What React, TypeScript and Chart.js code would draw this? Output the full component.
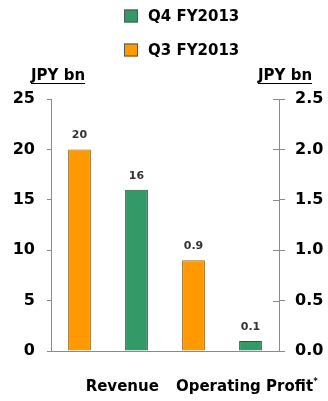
import React, { useEffect, useRef } from "react";
import { Chart, registerables } from "chart.js";

Chart.register(...registerables);

// ---- data ----
const slotLabels = ["Revenue Q3", "Revenue Q4", "Operating Profit Q3", "Operating Profit Q4"];
const categories = ["Revenue", "Operating Profit"];
const q3Values = [20, 0.9]; // Revenue (left axis), Operating Profit (right axis)
const q4Values = [16, 0.1];
const seriesNames = ["Q4 FY2013", "Q3 FY2013"];
const unitLabel = "JPY bn";
const leftTicksMax = 25;
const rightTicksMax = 2.5;

const ORANGE = "#FF9900";
const ORANGE_BORDER = "#9a6618";
const GREEN = "#339966";
const GREEN_BORDER = "#2a5a42";
const AXIS = "#8a8a8a";
const FONT = "'DejaVu Sans', Verdana, sans-serif";

const legendItems = [
  { label: seriesNames[0], color: GREEN, border: GREEN_BORDER },
  { label: seriesNames[1], color: ORANGE, border: ORANGE_BORDER },
];

const overlay = {
  id: "overlay",
  afterDraw(chart: any) {
    const ctx = chart.ctx as CanvasRenderingContext2D;
    const { left, right, top, bottom } = chart.chartArea;
    const y2 = chart.scales.y2;
    const x = chart.scales.x;
    ctx.save();
    // right axis: inner half of crossing ticks
    ctx.strokeStyle = AXIS;
    ctx.lineWidth = 1;
    y2.ticks.forEach((t: any) => {
      const py = Math.round(y2.getPixelForValue(t.value)) + 0.5;
      ctx.beginPath();
      ctx.moveTo(right - 6, py);
      ctx.lineTo(right, py);
      ctx.stroke();
    });
    // baseline
    ctx.beginPath();
    ctx.moveTo(left, Math.round(bottom) + 0.5);
    ctx.lineTo(right, Math.round(bottom) + 0.5);
    ctx.stroke();

    // data labels
    ctx.fillStyle = "#333";
    ctx.font = `bold 11px ${FONT}`;
    ctx.textAlign = "center";
    ctx.textBaseline = "middle";
    chart.data.datasets.forEach((ds: any, di: number) => {
      const meta = chart.getDatasetMeta(di);
      ds.data.forEach((v: any, i: number) => {
        if (v === null || v === undefined) return;
        const el = meta.data[i];
        ctx.fillText(String(v), el.x, el.y - 14);
      });
    });

    // category labels
    ctx.fillStyle = "#000";
    ctx.font = `bold 15px ${FONT}`;
    ctx.textBaseline = "middle";
    const catPos = [0.75, 2.93];
    categories.forEach((c, i) => {
      const cx = x.getPixelForValue(catPos[i]);
      const cy = bottom + 36;
      if (i === 1) {
        const w = ctx.measureText(c).width;
        const total = w + 4;
        ctx.textAlign = "left";
        ctx.fillText(c, cx - total / 2, cy);
        ctx.font = `bold 8px ${FONT}`;
        ctx.fillText("*", cx - total / 2 + w + 0.5, cy - 5);
        ctx.font = `bold 15px ${FONT}`;
      } else {
        ctx.textAlign = "center";
        ctx.fillText(c, cx, cy);
      }
    });

    // legend
    ctx.font = `bold 15px ${FONT}`;
    ctx.textAlign = "left";
    legendItems.forEach((it, i) => {
      const cy = 16 + i * 34;
      ctx.fillStyle = it.color;
      ctx.fillRect(124, cy - 6.5, 14, 13);
      ctx.strokeStyle = "#555";
      ctx.strokeRect(124.5, cy - 6, 13, 12);
      ctx.fillStyle = "#000";
      ctx.fillText(it.label, 148, cy + 1);
    });

    // unit titles
    const drawUnit = (xl: number) => {
      const w = ctx.measureText(unitLabel).width;
      ctx.fillText(unitLabel, xl, 76);
      ctx.beginPath();
      ctx.strokeStyle = "#000";
      ctx.moveTo(xl, 83.5);
      ctx.lineTo(xl + w, 83.5);
      ctx.stroke();
    };
    ctx.fillStyle = "#000";
    drawUnit(31);
    drawUnit(right - 21);
    ctx.restore();
  },
};

export default function App() {
  const ref = useRef<HTMLCanvasElement>(null);
  useEffect(() => {
    document.body.style.margin = "0";
    const chart = new Chart(ref.current!, {
      type: "bar",
      data: {
        labels: slotLabels,
        datasets: [
          { label: seriesNames[1], data: [q3Values[0], null, null, null], yAxisID: "y", backgroundColor: ORANGE, borderColor: ORANGE_BORDER },
          { label: seriesNames[0], data: [null, q4Values[0], null, null], yAxisID: "y", backgroundColor: GREEN, borderColor: GREEN_BORDER },
          { label: seriesNames[1], data: [null, null, q3Values[1], null], yAxisID: "y2", backgroundColor: ORANGE, borderColor: ORANGE_BORDER },
          { label: seriesNames[0], data: [null, null, null, q4Values[1]], yAxisID: "y2", backgroundColor: GREEN, borderColor: GREEN_BORDER },
        ] as any,
      },
      options: {
        animation: false,
        responsive: true,
        maintainAspectRatio: false,
        datasets: { bar: { skipNull: true, borderWidth: 1, barPercentage: 1, categoryPercentage: 0.4 } } as any,
        layout: { padding: { top: 99, bottom: 50, left: 0, right: 0 } },
        plugins: { legend: { display: false }, tooltip: { enabled: false } },
        scales: {
          x: { display: false },
          y: {
            position: "left",
            min: 0,
            max: leftTicksMax,
            ticks: { stepSize: 5, padding: 12, color: "#000", font: { family: FONT, size: 16, weight: "bold" } },
            grid: { drawOnChartArea: false, drawTicks: true, tickLength: 4, color: AXIS },
            border: { display: true, color: AXIS },
            afterFit: (s: any) => { s.width = 51; },
          },
          y2: {
            position: "right",
            min: 0,
            max: rightTicksMax,
            ticks: { stepSize: 0.5, padding: 10, color: "#000", font: { family: FONT, size: 16, weight: "bold" }, callback: (v: any) => Number(v).toFixed(1) },
            grid: { drawOnChartArea: false, drawTicks: true, tickLength: 6, color: AXIS },
            border: { display: true, color: AXIS },
            afterFit: (s: any) => { s.width = 49; },
          },
        } as any,
      },
      plugins: [overlay],
    });
    return () => chart.destroy();
  }, []);
  return (
    <div style={{ width: 328, height: 401, position: "relative" }}>
      <canvas ref={ref} />
    </div>
  );
}
